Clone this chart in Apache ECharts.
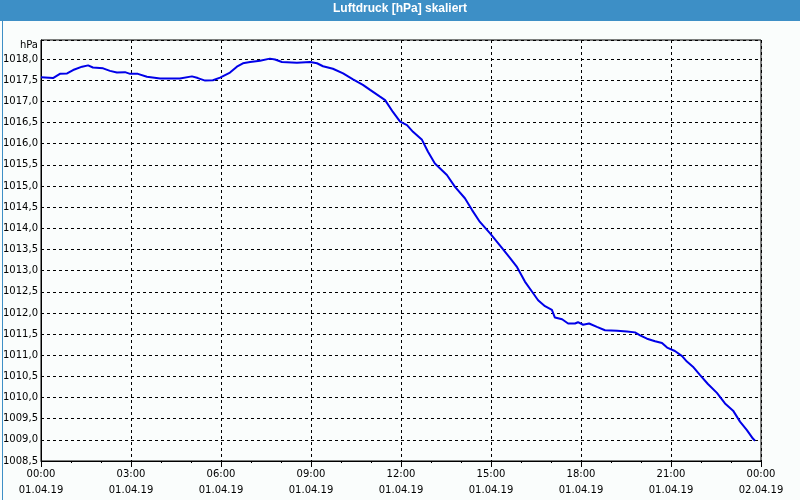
<!DOCTYPE html>
<html>
<head>
<meta charset="utf-8">
<script src="https://cdn.jsdelivr.net/npm/echarts@6/dist/echarts.min.js"></script>
<style>
html,body{margin:0;padding:0;background:#fafdfc;}
#chart{width:800px;height:500px;}
</style>
</head>
<body>
<div id="chart"></div>
<script>
var titleText = 'Luftdruck [hPa] skaliert';
var unitLabel = 'hPa';
var hours = [0,0.40,0.63,0.87,1.07,1.37,1.57,1.73,2.07,2.30,2.53,2.80,2.97,3.23,3.53,3.97,4.63,5.03,5.23,5.47,5.73,5.97,6.30,6.53,6.73,6.97,7.30,7.63,7.80,8.03,8.53,8.97,9.20,9.40,9.73,10.07,10.40,10.73,10.97,11.30,11.47,11.73,11.97,12.20,12.40,12.70,12.90,13.13,13.53,13.80,14.13,14.37,14.63,14.97,15.37,15.63,15.87,16.13,16.37,16.57,16.80,17.03,17.13,17.37,17.57,17.80,17.90,18.07,18.27,18.53,18.80,19.20,19.53,19.80,19.97,20.20,20.47,20.70,20.87,21.13,21.37,21.53,21.73,21.97,22.23,22.53,22.80,23.07,23.30,23.53,23.73,23.80];
var pressure = [1017.57,1017.55,1017.65,1017.66,1017.74,1017.82,1017.85,1017.80,1017.78,1017.72,1017.68,1017.69,1017.65,1017.65,1017.58,1017.54,1017.54,1017.59,1017.55,1017.49,1017.50,1017.56,1017.68,1017.82,1017.90,1017.93,1017.96,1018.01,1017.99,1017.93,1017.91,1017.93,1017.90,1017.83,1017.77,1017.66,1017.52,1017.39,1017.27,1017.11,1017.03,1016.75,1016.52,1016.44,1016.28,1016.09,1015.81,1015.53,1015.26,1014.98,1014.71,1014.43,1014.15,1013.88,1013.53,1013.30,1013.08,1012.74,1012.50,1012.30,1012.16,1012.07,1011.89,1011.85,1011.75,1011.75,1011.78,1011.72,1011.75,1011.67,1011.59,1011.58,1011.56,1011.54,1011.47,1011.39,1011.33,1011.29,1011.18,1011.10,1010.98,1010.85,1010.73,1010.53,1010.32,1010.11,1009.86,1009.69,1009.43,1009.23,1009.03,1008.98];
var dayLabels = ['01.04.19','02.04.19'];

var seriesData = hours.map(function(h,i){return [h, pressure[i]];});
function pad(n){return (n<10?'0':'')+n;}

var chart = echarts.init(document.getElementById('chart'), null, {renderer:'canvas'});
var font = 'DejaVu Sans';
chart.setOption({
  animation:false,
  backgroundColor:'#fafdfc',
  graphic:[
    {type:'rect', left:0, top:0, shape:{width:800, height:21}, style:{fill:'#3d8fc6'}, z:0},
    {type:'rect', left:0, top:0, shape:{width:799, height:499}, style:{fill:null, stroke:'#3d8fc6', lineWidth:1}, z:0},
    {type:'text', left:'center', top:3, style:{text:titleText, fill:'#ffffff', font:'bold 12px "Liberation Sans"'}, z:10}
  ],
  grid:{left:41, right:39, top:40, bottom:39, show:true, borderColor:'#000', borderWidth:1, backgroundColor:'transparent'},
  xAxis:{
    type:'value', min:0, max:24, interval:3,
    axisLine:{show:true, lineStyle:{color:'#000', width:1}},
    axisTick:{show:true, length:6, lineStyle:{color:'#000'}},
    minorTick:{show:true, splitNumber:3, length:2, lineStyle:{color:'#000'}},
    splitLine:{show:true, lineStyle:{color:'#000', type:[3,3], width:1}},
    axisLabel:{
      margin:5, color:'#000', fontFamily:font, fontSize:10, lineHeight:16,
      formatter:function(v){
        var h = Math.round(v);
        return pad(h%24)+':00\n'+(h<24?dayLabels[0]:dayLabels[1]);
      }
    }
  },
  yAxis:{
    type:'value', min:1008.5, max:1018.45, interval:0.5,
    name:unitLabel, nameLocation:'end', nameGap:-5,
    nameTextStyle:{color:'#000', fontFamily:font, fontSize:10, align:'right', verticalAlign:'middle', padding:[0,3,0,0]},
    axisLine:{show:true, lineStyle:{color:'#000', width:1}},
    axisTick:{show:false},
    splitLine:{show:true, lineStyle:{color:'#000', type:[3,3], width:1}},
    axisLabel:{
      margin:3, color:'#000', fontFamily:font, fontSize:10,
      showMaxLabel:false,
      formatter:function(v){
        if (Math.abs(v*2-Math.round(v*2))>1e-6) return '';
        return v.toFixed(1).replace('.',',');
      }
    }
  },
  series:[{
    type:'line', data:seriesData, showSymbol:false,
    lineStyle:{color:'#0000e8', width:2}, z:5
  }]
});
</script>
</body>
</html>
